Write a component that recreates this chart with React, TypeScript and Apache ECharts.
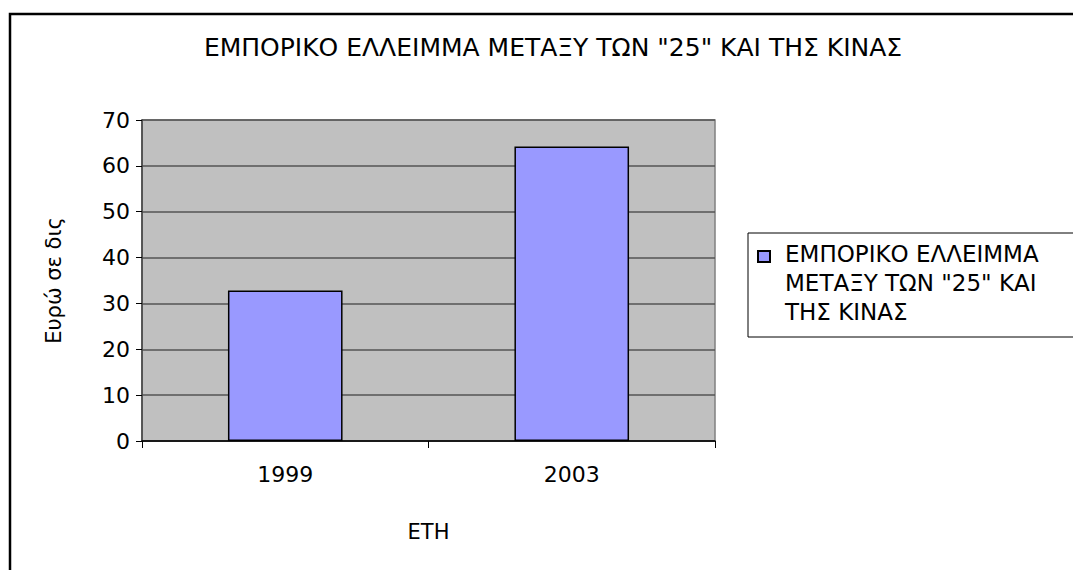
import React, { useEffect, useRef } from "react";
import * as echarts from "echarts";

const titleText = 'ΕΜΠΟΡΙΚΟ ΕΛΛΕΙΜΜΑ ΜΕΤΑΞΥ ΤΩΝ "25" ΚΑΙ ΤΗΣ ΚΙΝΑΣ';
const categories = ["1999", "2003"];
const seriesName = 'ΕΜΠΟΡΙΚΟ ΕΛΛΕΙΜΜΑ ΜΕΤΑΞΥ ΤΩΝ "25" ΚΑΙ ΤΗΣ ΚΙΝΑΣ';
const values = [32.8, 64.2];
const legendLines = ["ΕΜΠΟΡΙΚΟ ΕΛΛΕΙΜΜΑ", 'ΜΕΤΑΞΥ ΤΩΝ "25" ΚΑΙ', "ΤΗΣ ΚΙΝΑΣ"];
const yName = "Ευρώ σε δις";
const xName = "ΕΤΗ";

const FONT = "DejaVu Sans";

export default function App() {
  const ref = useRef<HTMLDivElement>(null);
  useEffect(() => {
    if (!ref.current) return;
    const chart = echarts.init(ref.current, null, { renderer: "svg" });
    chart.setOption({
      animation: false,
      backgroundColor: "#ffffff",
      textStyle: { fontFamily: FONT },
      title: {
        text: titleText,
        left: 548,
        textAlign: "center",
        top: 30,
        textStyle: { fontFamily: FONT, fontSize: 25, fontWeight: "normal", color: "#000" },
      },
      grid: {
        left: 142,
        top: 120,
        right: 358,
        bottom: 129,
        show: true,
        backgroundColor: "#c0c0c0",
        borderColor: "#808080",
        borderWidth: 1.5,
      },
      xAxis: {
        type: "category",
        data: categories,
        name: xName,
        nameLocation: "middle",
        nameGap: 80,
        nameTextStyle: { fontFamily: FONT, fontSize: 21, color: "#000" },
        axisLine: { lineStyle: { color: "#000", width: 1.5 } },
        axisTick: { show: true, length: 7, lineStyle: { color: "#000" } },
        axisLabel: { fontFamily: FONT, fontSize: 22, color: "#000", margin: 22 },
      },
      yAxis: {
        type: "value",
        min: 0,
        max: 70,
        interval: 10,
        name: yName,
        nameLocation: "middle",
        nameRotate: 90,
        nameGap: 78,
        nameTextStyle: { fontFamily: FONT, fontSize: 21, color: "#000" },
        axisLine: { show: true, lineStyle: { color: "#404040", width: 1.5 } },
        axisTick: { show: true, length: 6, lineStyle: { color: "#000" } },
        axisLabel: { fontFamily: FONT, fontSize: 22, color: "#000", margin: 12 },
        splitLine: { show: true, lineStyle: { color: "#555555", width: 1.5 } },
      },
      series: [
        {
          type: "bar",
          name: seriesName,
          data: values,
          barWidth: "40%",
          itemStyle: { color: "#9999ff", borderColor: "#000", borderWidth: 1.5 },
        },
      ],
      graphic: [
        {
          type: "rect",
          shape: { x: 10, y: 14, width: 1100, height: 700 },
          style: { fill: "none", stroke: "#000", lineWidth: 2.5 },
          silent: true,
        },
        {
          type: "group",
          x: 748,
          y: 233,
          children: [
            {
              type: "rect",
              shape: { x: 0, y: 0, width: 400, height: 104 },
              style: { fill: "#fff", stroke: "#000", lineWidth: 1 },
            },
            {
              type: "rect",
              shape: { x: 10, y: 18, width: 12, height: 11 },
              style: { fill: "#9999ff", stroke: "#000", lineWidth: 2 },
            },
            {
              type: "text",
              x: 37,
              y: 6,
              style: {
                text: legendLines.join("\n"),
                fontFamily: FONT,
                fontSize: 23,
                lineHeight: 29,
                fill: "#000",
              },
            },
          ],
        },
      ],
    });
    return () => chart.dispose();
  }, []);
  return (
    <div
      ref={ref}
      style={{ position: "fixed", left: 0, top: 0, width: 1073, height: 570 }}
    />
  );
}
